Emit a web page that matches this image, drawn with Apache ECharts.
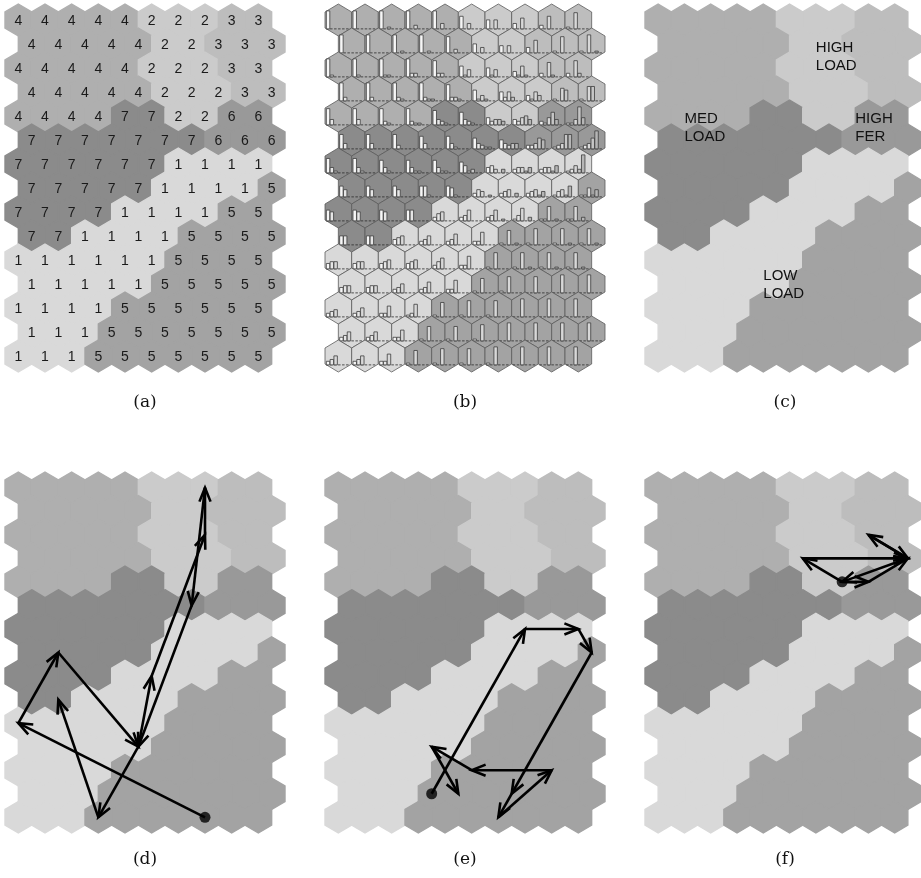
<!DOCTYPE html>
<html><head><meta charset="utf-8">
<script src="https://cdn.jsdelivr.net/npm/echarts@6/dist/echarts.min.js"></script>
<style>html,body{margin:0;padding:0;background:#fff}#c{width:921px;height:878px}</style>
</head><body><div id="c"></div><script>
// ---- data: SOM map 15 rows x 10 columns (hexagonal, odd rows shifted right) ----
const clusterRows = [
  "4444422233",
  "4444422333",
  "4444422233",
  "4444422233",
  "4444772266",
  "7777777666",
  "7777771111",
  "7777711115",
  "7777111155",
  "7711115555",
  "1111115555",
  "1111155555",
  "1111555555",
  "1115555555",
  "1115555555"
];
const clusterColors = {1:'#d9d9d9',2:'#cbcbcb',3:'#bdbdbd',4:'#afafaf',5:'#a3a3a3',6:'#999999',7:'#8b8b8b'};

// component-plane mini bar charts for panel (b): 6 values (0-10) per map unit
const barValues = [
 [[10,0,0,0,0,0],[10,0,0,0,0,0],[10,0,1,0,0,0],[10,0,2,0,0,0],[10,0,3,0,0,0],[7,0,3,0,0,0],[5,0,5,0,0,0],[3,0,6,0,0,0],[2,0,7,0,0,0],[1,0,9,0,0,0]],
 [[10,0,0,0,0,0],[10,0,0,0,0,0],[10,0,1,0,0,0],[10,0,1,0,0,0],[9,0,2,0,0,0],[5,0,3,0,0,0],[4,0,4,0,0,0],[3,0,7,0,0,0],[1,0,9,0,0,0],[1,0,10,0,1,0]],
 [[10,1,0,0,0,0],[10,1,0,0,0,0],[10,1,1,0,0,0],[10,2,2,0,0,0],[9,2,2,0,0,0],[6,1,4,0,0,0],[5,1,4,0,0,0],[3,1,6,1,0,0],[2,0,8,1,0,0],[2,0,9,2,0,0]],
 [[10,2,0,0,0,0],[10,2,0,0,0,0],[10,2,1,0,0,0],[10,2,1,1,0,0],[9,2,2,1,0,0],[6,1,3,1,0,0],[5,2,5,2,0,0],[3,1,5,3,0,0],[1,0,7,6,0,0],[1,0,8,8,0,0]],
 [[9,3,0,0,0,0],[9,3,0,0,0,0],[9,2,1,0,0,0],[9,2,1,1,0,0],[8,3,2,1,0,0],[7,3,2,1,0,0],[4,2,3,3,2,0],[3,2,4,5,3,0],[2,1,4,7,3,0],[1,1,3,10,4,0]],
 [[8,3,0,0,0,0],[8,3,0,0,0,0],[8,2,0,0,0,0],[7,3,0,0,0,0],[7,3,1,0,0,0],[6,3,2,1,1,0],[5,3,2,3,3,0],[2,2,3,6,5,0],[1,2,3,8,8,0],[1,2,3,6,10,0]],
 [[8,3,1,0,0,0],[8,3,1,0,0,0],[7,3,1,0,0,0],[7,3,1,1,0,0],[7,3,1,1,0,0],[6,4,1,2,0,0],[3,4,2,0,2,0],[2,3,3,1,3,0],[2,3,3,1,4,0],[1,2,4,2,10,0]],
 [[6,4,0,0,0,0],[6,4,0,0,0,0],[6,4,0,0,0,0],[6,6,1,0,0,0],[6,5,1,0,0,0],[2,4,3,0,1,0],[2,3,4,0,2,0],[2,3,4,1,3,0],[1,3,4,1,6,0],[1,1,5,1,4,0]],
 [[6,5,0,0,0,0],[6,5,0,0,0,0],[6,5,0,0,0,0],[6,6,0,0,0,0],[2,4,5,0,0,0],[2,3,6,0,0,0],[2,3,6,0,1,0],[1,3,7,0,2,0],[1,1,8,0,1,0],[1,1,8,0,2,0]],
 [[5,5,0,0,0,0],[5,5,0,0,0,0],[3,4,5,0,0,0],[2,3,5,0,0,0],[2,3,6,0,0,0],[2,2,7,0,0,0],[1,0,8,0,1,0],[1,0,9,0,0,0],[1,0,9,0,1,0],[1,0,9,0,1,0]],
 [[3,4,4,0,0,0],[3,4,4,0,0,0],[3,4,5,0,0,0],[3,4,5,0,0,0],[2,4,6,0,0,0],[2,2,7,0,0,0],[1,0,9,0,0,0],[1,0,9,0,1,0],[1,0,9,0,1,0],[1,0,9,0,1,0]],
 [[3,4,4,0,0,0],[3,4,4,0,0,0],[2,3,5,0,0,0],[2,3,6,0,0,0],[2,2,7,0,0,0],[1,0,8,0,0,0],[1,0,9,0,0,0],[0,0,9,0,0,0],[0,0,10,0,0,0],[0,0,10,0,0,0]],
 [[2,3,4,0,0,0],[2,3,5,0,0,0],[2,2,6,0,0,0],[1,2,7,0,0,0],[1,0,8,0,0,0],[1,0,9,0,0,0],[1,0,9,0,0,0],[0,0,10,0,0,0],[0,0,10,0,0,0],[0,0,10,0,0,0]],
 [[2,3,5,0,0,0],[2,3,5,0,0,0],[2,2,6,0,0,0],[1,0,8,0,0,0],[1,0,8,0,0,0],[1,0,9,0,0,0],[0,0,10,0,0,0],[0,0,10,0,0,0],[0,0,10,0,0,0],[0,0,10,0,0,0]],
 [[2,3,5,0,0,0],[2,3,5,0,0,0],[2,2,6,0,0,0],[1,0,8,0,0,0],[1,0,9,0,0,0],[1,0,9,0,0,0],[1,0,10,0,0,0],[0,0,10,0,0,0],[0,0,10,0,0,0],[0,0,10,0,0,0]]
];

// region names for panel (c): [x, y] in map units
const regionNames = ['HIGH\nLOAD','MED\nLOAD','HIGH\nFER','LOW\nLOAD'];
const regionPos = [[6.5,1.53],[1.5,4.51],[8.0,4.51],[4.5,11.04]];

// trajectories (best matching units [row, col]) for panels (d), (e), (f)
const trajD = [[14,7],[10,0],[7,1],[11,4],[8,5],[2,7],[0,7],[5,6],[11,4],[14,3],[9,1]];
const trajE = [[13,3],[6,7],[6,9],[7,9],[13,6],[14,6],[12,8],[12,5],[11,3],[13,4]];
const trajF = [[4,7],[3,5],[3,9],[2,8],[3,9],[4,7],[4,8],[3,9]];

const captions = ['(a)','(b)','(c)','(d)','(e)','(f)'];

// ---- layout ----
const panels = [
  {left:5, top:4, height:368}, {left:325, top:4, height:368}, {left:645, top:4, height:368},
  {left:5, top:472, height:361}, {left:325, top:472, height:361}, {left:645, top:472, height:361}
];
const captionY = [403, 403, 403, 860, 860, 860];

function center(r, c) { return [c + 0.5 + (r % 2 ? 0.5 : 0), r]; }
const cells = [];
clusterRows.forEach((row, r) => row.split('').forEach((ch, c) => {
  const p = center(r, c); cells.push([p[0], p[1], +ch, r, c]);
}));

const slotFills = ['#f7f7f7','#e6e6e6','#d8d8d8','#c6c6c6','#b6b6b6','#a6a6a6'];

function hexRenderer(mode) {
  return function (params, api) {
    const x = api.value(0), y = api.value(1), k = api.value(2), r = api.value(3), c = api.value(4);
    const col = clusterColors[k];
    const pts = [[x, y - 2/3], [x + 0.5, y - 1/3], [x + 0.5, y + 1/3], [x, y + 2/3], [x - 0.5, y + 1/3], [x - 0.5, y - 1/3]].map(p => api.coord(p));
    const children = [{
      type: 'polygon', shape: { points: pts },
      style: { fill: col, stroke: mode === 'b' ? '#5c5c5c' : col, lineWidth: mode === 'b' ? 0.8 : 1.4 }
    }];
    if (mode === 'a') {
      const p = api.coord([x, y]);
      children.push({ type: 'text', x: p[0], y: p[1] + 1, z2: 10,
        style: { text: String(k), fill: '#1a1a1a', fontSize: 14, fontFamily: '"Liberation Sans", Arial, sans-serif', align: 'center', verticalAlign: 'middle' } });
    }
    if (mode === 'b') {
      const vals = barValues[r][c];
      const base = y + 0.37;
      const b0 = api.coord([x - 0.46, base]), b1 = api.coord([x + 0.42, base]);
      children.push({ type: 'line', shape: { x1: b0[0], y1: b0[1], x2: b1[0], y2: b1[1] },
        style: { stroke: '#2a2a2a', lineWidth: 0.8, lineDash: [2.5, 1.5] } });
      vals.forEach((v, s) => {
        if (!v) return;
        const xl = x - 0.45 + s * 0.142;
        const tl = api.coord([xl, base - v / 10 * 0.75]);
        const br = api.coord([xl + 0.13, base]);
        children.push({ type: 'rect', shape: { x: tl[0], y: tl[1], width: br[0] - tl[0], height: br[1] - tl[1] },
          style: { fill: slotFills[s], stroke: '#3c3c3c', lineWidth: 0.8 } });
      });
    }
    return { type: 'group', children };
  };
}

function segs(traj) {
  const out = [];
  for (let i = 0; i < traj.length - 1; i++) {
    const a = center(traj[i][0], traj[i][1]), b = center(traj[i + 1][0], traj[i + 1][1]);
    out.push([a[0], a[1], b[0], b[1]]);
  }
  return out;
}

function renderArrow(params, api) {
  const p0 = api.coord([api.value(0), api.value(1)]);
  const p1 = api.coord([api.value(2), api.value(3)]);
  const ang = Math.atan2(p1[1] - p0[1], p1[0] - p0[0]);
  const L = 15, a = 0.38;
  const h1 = [p1[0] - L * Math.cos(ang - a), p1[1] - L * Math.sin(ang - a)];
  const h2 = [p1[0] - L * Math.cos(ang + a), p1[1] - L * Math.sin(ang + a)];
  return { type: 'group', children: [
    { type: 'line', shape: { x1: p0[0], y1: p0[1], x2: p1[0], y2: p1[1] }, style: { stroke: '#000', lineWidth: 2.6 } },
    { type: 'polyline', shape: { points: [h1, p1, h2] }, style: { stroke: '#000', lineWidth: 2.6, fill: null, lineJoin: 'miter' } }
  ] };
}

const series = [];
['a', 'b', 'c', 'd', 'e', 'f'].forEach((m, i) => {
  series.push({ type: 'custom', xAxisIndex: i, yAxisIndex: i, z: 1, silent: true,
    renderItem: hexRenderer(m === 'a' ? 'a' : m === 'b' ? 'b' : 'plain'),
    encode: { x: 0, y: 1 }, data: cells });
});
series.push({ type: 'custom', xAxisIndex: 2, yAxisIndex: 2, z: 2, silent: true, encode: { x: 0, y: 1 },
  data: regionPos.map((p, i) => [p[0], p[1], i]),
  renderItem: function (params, api) {
    const p = api.coord([api.value(0), api.value(1)]);
    return { type: 'text', x: p[0], y: p[1], style: { text: regionNames[api.value(2)], fill: '#111',
      fontSize: 15, lineHeight: 18, fontFamily: '"Liberation Sans", Arial, sans-serif', align: 'left', verticalAlign: 'middle' } };
  } });
[trajD, trajE, trajF].forEach((t, j) => {
  const gi = 3 + j;
  series.push({ type: 'custom', xAxisIndex: gi, yAxisIndex: gi, z: 3, silent: true,
    encode: { x: [0, 2], y: [1, 3] }, data: segs(t), renderItem: renderArrow });
  series.push({ type: 'scatter', xAxisIndex: gi, yAxisIndex: gi, z: 4, silent: true,
    symbol: 'circle', symbolSize: 11, itemStyle: { color: '#000' },
    data: [center(t[0][0], t[0][1])] });
});

const option = {
  animation: false,
  backgroundColor: '#ffffff',
  grid: panels.map(p => ({ left: p.left, top: p.top, width: 280, height: p.height, containLabel: false })),
  xAxis: panels.map((p, i) => ({ gridIndex: i, type: 'value', min: 0, max: 10.5, show: false })),
  yAxis: panels.map((p, i) => ({ gridIndex: i, type: 'value', min: -2/3, max: 14 + 2/3, inverse: true, show: false })),
  graphic: captions.map((t, i) => ({ type: 'text', x: panels[i].left + 140, y: captionY[i],
    style: { text: t, fill: '#111', fontSize: 17, fontFamily: '"DejaVu Serif", "Liberation Serif", serif', align: 'center', verticalAlign: 'middle' } })),
  series
};
const chart = echarts.init(document.getElementById('c'), null, { renderer: 'canvas', width: 921, height: 878 });
chart.setOption(option);
</script></body></html>
